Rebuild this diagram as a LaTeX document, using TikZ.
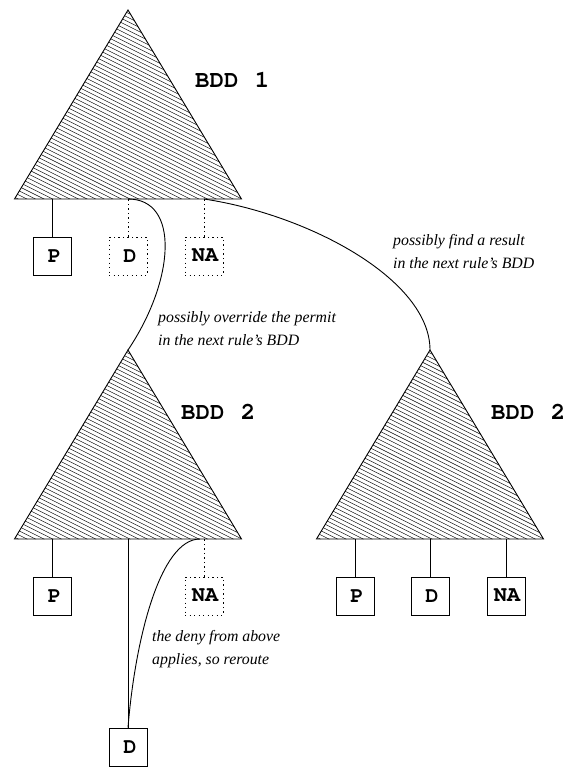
\documentclass[tikz,border=0pt]{standalone}
\usepackage[T1]{fontenc}
\usepackage{fontspec}
\setmainfont{Liberation Serif}
\newcommand\bddfont{\fontencoding{T1}\fontfamily{pcr}\fontseries{b}\fontsize{22}{24}\selectfont}
\newcommand\bddbigfont{\fontencoding{T1}\fontfamily{pcr}\fontseries{b}\fontsize{24}{26}\selectfont}
\begin{document}
\begin{tikzpicture}[x=1pt, y=-1pt,
		tri/.style={line width=0.9pt, line join=miter},
		hatch/.style={line width=0.45pt},
		box/.style={draw, line width=0.8pt, minimum size=38pt, inner sep=0pt, font=\bddfont},
		dotbox/.style={box, dash pattern=on 1.2pt off 3.3pt},
		dotline/.style={line width=0.8pt, dash pattern=on 1.2pt off 3.3pt},
		route/.style={line width=0.9pt},
		bddlabel/.style={anchor=west, inner sep=0pt, font=\bddbigfont},
		note/.style={anchor=west, inner sep=0pt, align=left, font=\itshape\fontsize{15.8}{23}\selectfont}]
		\useasboundingbox (0,0) rectangle (574,767);
		\foreach \n/\ax/\ay in {1/128/10, 2/128/350, 3/430/350}{
			\coordinate (a\n) at (\ax,\ay);
			\coordinate (l\n) at (\ax-113.5,\ay+189);
			\coordinate (r\n) at (\ax+113.5,\ay+189);
			\begin{scope}
				\clip (a\n) -- (l\n) -- (r\n) -- cycle;
				\foreach \k in {0,...,80}
				\draw[hatch] (\ax-120,{\ay+\k*4.3-130}) -- ++(240,120);
			\end{scope}
			\draw[tri] (a\n) -- (l\n) -- (r\n) -- cycle;
		}
		\node[bddlabel] (lab1) at (195,80) {BDD\hspace{2pt} 1};
		\node[bddlabel] (lab2) at (181,412) {BDD\hspace{2pt} 2};
		\node[bddlabel] (lab3) at (491,412) {BDD\hspace{2pt} 2};
		\node[box] (p1) at (52.5,256) {\hspace{4pt}P};
		\node[dotbox] (d1) at (128,256) {\hspace{4pt}D};
		\node[dotbox] (na1) at (204,256) {\hspace{2pt}NA};
		\node[box] (p2) at (52.5,596) {\hspace{4pt}P};
		\node[dotbox] (na2) at (204,596) {\hspace{2pt}NA};
		\node[box] (d2) at (128,747) {\hspace{4pt}D};
		\node[box] (p3) at (355,596) {\hspace{4pt}P};
		\node[box] (d3) at (430,596) {\hspace{4pt}D};
		\node[box] (na3) at (506,596) {\hspace{2pt}NA};
		\draw[route] (p1) -- (p1 |- l1);
		\draw[dotline] (d1) -- (d1 |- l1);
		\draw[dotline] (na1) -- (na1 |- l1);
		\draw[route] (p2) -- (p2 |- l2);
		\draw[dotline] (na2) -- (na2 |- l2);
		\draw[route] (d2) -- (d2 |- l2);
		\draw[route] (p3) -- (p3 |- l3);
		\draw[route] (d3) -- (d3 |- l3);
		\draw[route] (na3) -- (na3 |- l3);
		\draw[route] (a1 |- l1) .. controls (180,199) and (175,280) .. (a2);
		\draw[route] (na1 |- l1) .. controls (310,215) and (430,280) .. (a3);
		\draw[route] ([xshift=-4pt]na2 |- l2) .. controls (160,539) and (135,640) .. (d2.north);
		\node[note] (n1) at (393,252) {possibly find a result\\in the next rule's BDD};
		\node[note] (n2) at (158,328.5) {possibly override the permit\\in the next rule's BDD};
		\node[note] (n3) at (152,649.5) {the deny from above\\applies, so reroute};
\end{tikzpicture}
\end{document}
